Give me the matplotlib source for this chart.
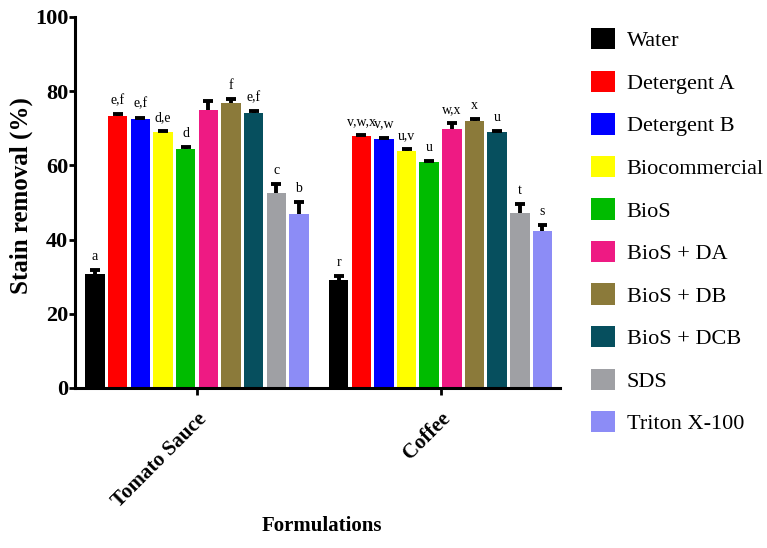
import numpy as np
import matplotlib
matplotlib.use('Agg')
import matplotlib.pyplot as plt
from matplotlib.patches import Patch

# ------------ data ---------------

stains = ['Tomato Sauce', 'Coffee']
formulations = ['Water', 'Detergent A', 'Detergent B', 'Biocommercial', 'BioS',
                'BioS + DA', 'BioS + DB', 'BioS + DCB', 'SDS', 'Triton X-100']
colors = ['#000000', '#ff0000', '#0000ff', '#ffff00', '#00bb00',
          '#ee1a83', '#8b7a3a', '#064f5e', '#9fa0a4', '#8c8cf6']

tomato = [30.6, 73.2, 72.5, 69.0, 64.5, 75.0, 76.8, 74.1, 52.5, 46.9]
tomato_err = [1.3, 0.7, 0.4, 0.3, 0.4, 2.3, 1.2, 0.5, 2.4, 3.3]
tomato_letters = ['a', 'e,f', 'e,f', 'd,e', 'd', '', 'f', 'e,f', 'c', 'b']

coffee = [29.1, 67.9, 67.2, 63.9, 60.8, 69.9, 72.0, 69.1, 47.3, 42.4]
coffee_err = [1.2, 0.3, 0.3, 0.5, 0.4, 1.6, 0.5, 0.3, 2.2, 1.6]
coffee_letters = ['r', 'v,w,x', 'v,w', 'u,v', 'u', 'w,x', 'x', 'u', 't', 's']

values = [tomato, coffee]
errors = [tomato_err, coffee_err]
letters = [tomato_letters, coffee_letters]

# ------------ plot ---------------

plt.rcParams['font.family'] = ['Liberation Serif', 'DejaVu Serif']

fig = plt.figure(figsize=(7.67, 5.48), dpi=100)
ax = fig.add_axes([0.098, 0.292, 0.632, 0.677])

n = len(formulations)
cell = 0.093
width = cell * 0.86
cap = cell * 0.22
group_x = np.arange(len(stains))

for g in range(len(stains)):
    xs = group_x[g] + (np.arange(n) - (n - 1) / 2) * cell
    tops = np.array(values[g]) + np.array(errors[g])
    ax.bar(xs, values[g], width=width, color=colors, edgecolor='none', zorder=2)
    # upper error bars only
    ax.vlines(xs, values[g], tops, color='black', linewidth=2.8, zorder=3)
    ax.hlines(tops, xs - cap, xs + cap, color='black', linewidth=2.8, zorder=3)
    for x, t, lab in zip(xs, tops, letters[g]):
        if lab:
            ax.annotate(lab, (x, t), xytext=(0, 5), textcoords='offset points',
                        ha='center', va='bottom', fontsize=10)

ax.set_xlim(-0.5, 1.49)
ax.set_ylim(0, 100)
ax.set_yticks([0, 20, 40, 60, 80, 100])
ax.set_xticks(group_x)
ax.set_xticklabels(stains, rotation=45, ha='right', rotation_mode='anchor',
                   fontsize=15, fontweight='bold')
for lbl in ax.get_yticklabels():
    lbl.set_fontsize(16)
    lbl.set_fontweight('bold')

ax.spines['top'].set_visible(False)
ax.spines['right'].set_visible(False)
ax.spines['left'].set_linewidth(2.2)
ax.spines['bottom'].set_linewidth(2.2)
ax.tick_params(axis='y', width=2, length=4, pad=1)
ax.tick_params(axis='x', width=2, length=5, pad=10)

ax.set_ylabel('Stain removal (%)', fontsize=18, fontweight='bold')
ax.yaxis.set_label_coords(-0.088, 0.52)
fig.text(0.42, 0.04, 'Formulations', ha='center', va='center',
         fontsize=15, fontweight='bold')

handles = [Patch(facecolor=c, edgecolor='none', label=f) for c, f in zip(colors, formulations)]
fig.legend(handles=handles, loc='upper left', bbox_to_anchor=(0.759, 0.965),
           frameon=False, fontsize=16, handlelength=1.1, handleheight=1.1,
           handletextpad=0.5, labelspacing=0.87, borderaxespad=0)

fig.savefig('out.png', dpi=100)
